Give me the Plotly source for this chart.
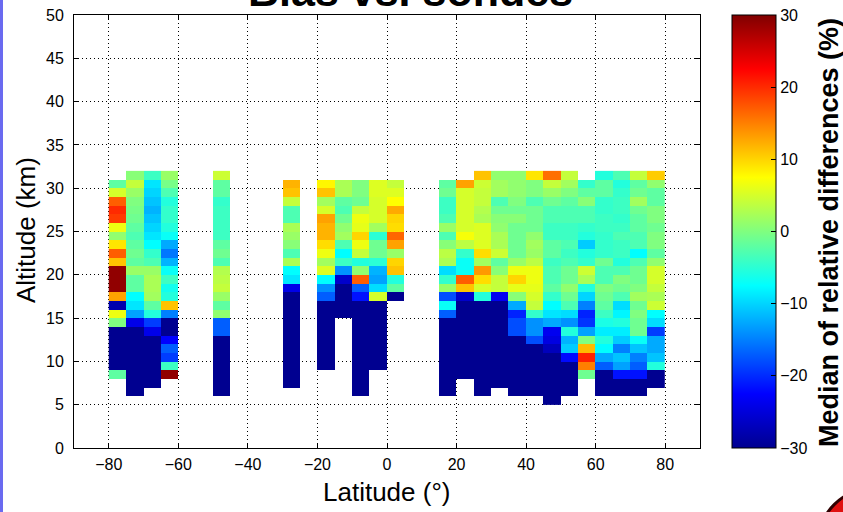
import plotly.graph_objects as go

# ---------------- data ----------------
lat_centers = [-77.5, -72.5, -67.5, -62.5, -47.5, -27.5, -17.5, -12.5, -7.5, -2.5, 2.5,
               17.5, 22.5, 27.5, 32.5, 37.5, 42.5, 47.5, 52.5, 57.5, 62.5, 67.5, 72.5, 77.5]
# lowest altitude bin (km) of each latitude column
bottom_km = [8, 6, 7, 8, 6, 7, 9, 15, 6, 9, 17, 6, 8, 6, 7, 6, 6, 5, 6, 8, 6, 6, 6, 7]

# median relative differences (%), 1-km bins listed from the bottom bin upward
p_m77 = [-2, -30, -30, -30, -30, -30, 0, 6.5, -28, 13, 29, 29, 29, 11, 17, 9, 1, 6.5, 19, 20, 17, 5, -2]
p_m72 = [-30, -30, -30, -30, -30, -30, -30, -30, -24, -13, -9, -7.5, -2, -2, 1.5, -2, -1, -2, -3, -2,
         -1, -0.5, 0, 1.5, 4, 0.5]
p_m67 = [-30, -30, -30, -30, -30, -30, -24, -19, -5.5, -2, 2, 2.5, 2.5, 1.5, -3, -4.5, -7.5, -9, -10,
         -11, -12, -11, -10, -9, -4]
p_m62 = [29, -4, -19, -17, -22.5, -30, -30, -15, 11, -5.5, -6.5, -4, -7, -12, -15.5, -12.5, -7, -5.5,
         -4.5, -4.5, -5.5, -3, -0.5, 1.5]
p_m47 = [-30, -30, -30, -30, -30, -30, -30, -17, -17, 1, -2, 1.5, 4, 3.5, 3, -3, -1, -2, -4, -4, -4,
         -4, -4.5, -2, -2, 4.5]
p_m27 = [-30, -30, -30, -30, -30, -30, -30, -30, -30, -30, -30, -24, -9, -7.5, 2.5, -3, 0.5, 1.5, 2.5,
         -3, -3, 4, 11, 12]
p_m17 = [-30, -30, -30, -30, -30, -30, -30, -30, -17, -14, -7.5, 5.5, 2, 6.5, 9.5, 12, 12, 13, 5, 2, 11, 8]
p_m12 = [-30, -30, -30, -30, -26, -14, -4, -7.5, -3, 2, 1, -1, -3, -2, 2.5, 2.5]
p_m07 = [-30, -30, -30, -30, -30, -30, -30, -30, -30, -30, -30, -21.5, -17, 17, 1, -5.5, 4, 6.5, 10, 6,
         6.5, 4, -1, 0, 0]
p_m02 = [-30, -30, -30, -30, -30, -30, -30, -30, 5, -9.5, -13, -12, -5, -1, -1, -5, 2, 5, 5, 5, 5.5, 5.5]
p_p02 = [-30, -2, -5.5, 11, 10, 1.5, 13, 16.5, 9.5, 10, 12.5, 7.5, 5.5, 4]
p_p17 = [-30, -30, -30, -30, -30, -30, -30, -30, -30, -17, -7, -18, 1.5, -4.5, -9.5, 2.5, 3.5, 0.5, -3,
         1.5, -3, -4, -4, -1, -2]
p_p22 = [-30, -30, -30, -30, -30, -30, -30, -30, -30, -26, 11, 17, -7, -7, -4.5, 3.5, 7, 5, 5, 5, 5, 5, 13]
p_p27 = [-30, -30, -30, -30, -30, -30, -30, -30, -30, -30, -30, -5.5, 5, 9.5, 13.5, 2, 9.5, 5.5, 5.5,
         5.5, 2.5, 3, 4, 4, 4.5, 11]
p_p32 = [-30, -30, -30, -30, -30, -30, -30, -30, -30, -30, -23.5, 4, 4, 0.5, -2, 4.5, 2.5, 2.5, 1, 0.5,
         -1, -3, 2, 2, 1]
p_p37 = [-30, -30, -30, -30, -30, -30, -30, -18, -18, -20.5, -12.5, 0.5, 6, 10, 6.5, 1.5, -1, -1, -1,
         -1, 0.5, -1, 0, 1, 1, 1]
p_p42 = [-30, -30, -30, -30, -30, -30, -18, -14, -14, -4.5, 4, 5, 6, 6.5, 6.5, 3.5, 1.5, 2, 1, -1, -1,
         -1, -3, 0, 0, 9]
p_p47 = [-30, -30, -30, -30, -30, -30, -27, -24.5, -23.5, -12.5, -9, -7.5, -4.5, -2, -3, -3, -4, -2,
         -2, -4, -4, -3, -3, -1, 1.5, 4, 16]
p_p52 = [-30, -30, -30, -30, -22, -10.5, -12, -5.5, -14, -9.5, -3, -1, 1, -1, -1, -3, -4, -3, -4, -4,
         -3, -3, -2, 0, 2, 4]
p_p57 = [-1, 15, 20.5, 11.5, 0, -13, -19.5, -20.5, -15, -10, -5.5, 2.5, 4.5, -4.5, -5.5, -10.5, -5.5,
         -4.5, -3, -3, 0.5, -2, -4.5]
p_p62 = [-30, -30, -30, -17, -12.5, -7.5, -5.5, -8.5, -6, -4, -2, -1, 0, -3, -3, -1, -4.5, -4.5, -4.5,
         -4, -4, -4.5, -4.5, -2, -2, -5.5]
p_p67 = [-30, -30, -21.5, -13, -11, -15, -10.5, -8.5, -5.5, -8, -9.5, -3, -1, 0, -3, -5.5, -4, -4, -3,
         -4, -4.5, -4, -4, -4.5, -5.5, -3]
p_p72 = [-30, -30, -21.5, -17, -15, -11, -7, -1, -1, 0, -1, 2, 0, -1, -1, -3, -7.5, -3, -3, -2, -2, -1,
         2, -1, -2, 4]
p_p77 = [-30, -30, -5.5, -11, -12.5, -12.5, -19, -9.5, -7.5, 4.5, 2.5, 4, 5, 5, 1, -2, 0, 0, -1, 0, 0,
         -2, -2, 1, 10.5]

profiles = [p_m77, p_m72, p_m67, p_m62, p_m47, p_m27, p_m17, p_m12, p_m07, p_m02, p_p02,
            p_p17, p_p22, p_p27, p_p32, p_p37, p_p42, p_p47, p_p52, p_p57, p_p62, p_p67, p_p72, p_p77]

x_ticks = [-80, -60, -40, -20, 0, 20, 40, 60, 80]
y_ticks = [0, 5, 10, 15, 20, 25, 30, 35, 40, 45, 50]
cb_ticks = [-30, -20, -10, 0, 10, 20, 30]

# ---------------- grid ----------------
lat_bin = 5.0
lat_grid = [-80 + lat_bin / 2 + lat_bin * i for i in range(32)]
alt_low = 5
alt_grid = [alt_low + 0.5 + k for k in range(27)]
z = [[None] * len(lat_grid) for _ in alt_grid]
for lat, b, prof in zip(lat_centers, bottom_km, profiles):
    j = lat_grid.index(lat)
    for k, v in enumerate(prof):
        z[b - alt_low + k][j] = v

jet = [[0.0, "#000090"], [0.125, "#0000FF"], [0.375, "#00FFFF"],
       [0.625, "#FFFF00"], [0.875, "#FF0000"], [1.0, "#800000"]]

L, R, T, B = 74, 143, 15, 64
W, H = 843, 512
pw, ph = W - L - R, H - T - B

def px(xp):
    return (xp - L) / pw

def py(yp):
    return 1 - (yp - T) / ph

font_main = "Liberation Sans, Arial, sans-serif"

fig = go.Figure()
fig.add_trace(go.Heatmap(
    x=lat_grid, y=alt_grid, z=z, zmin=-30, zmax=30, colorscale=jet,
    hoverongaps=False, xgap=0, ygap=0,
    colorbar=dict(
        x=px(732), xanchor="left", xpad=0, y=0.5, yanchor="middle", ypad=0,
        len=1.0, lenmode="fraction", thickness=44, thicknessmode="pixels",
        outlinecolor="black", outlinewidth=1,
        tickvals=cb_ticks, ticks="inside", ticklen=5, tickcolor="black",
        tickfont=dict(family=font_main, size=16, color="black"),
    ),
))

axis_common = dict(
    showline=True, linecolor="black", linewidth=1, mirror="ticks",
    ticks="inside", ticklen=5, tickcolor="black",
    showgrid=True, gridcolor="black", griddash="1px,3px", gridwidth=1,
    zeroline=False,
    tickfont=dict(family=font_main, size=16, color="black"),
)

fig.update_layout(
    width=W, height=H,
    margin=dict(l=L, r=R, t=T, b=B, autoexpand=False),
    paper_bgcolor="white", plot_bgcolor="white",
    xaxis=dict(range=[-90, 90], tickvals=x_ticks, ticklabelstandoff=2, **axis_common),
    yaxis=dict(range=[0, 50], tickvals=y_ticks, ticklabelstandoff=6, **axis_common),
    annotations=[
        dict(text="Bias vs. sondes", xref="paper", yref="paper", x=px(410), y=py(-9),
             xanchor="center", yanchor="middle", showarrow=False,
             font=dict(family=font_main, size=43, color="black", weight="bold")),
        dict(text="Latitude (°)", xref="paper", yref="paper", x=px(386), y=py(492),
             xanchor="center", yanchor="middle", showarrow=False,
             font=dict(family=font_main, size=26, color="black")),
        dict(text="Altitude (km)", xref="paper", yref="paper", x=px(26), y=py(230),
             xanchor="center", yanchor="middle", showarrow=False, textangle=-90,
             font=dict(family=font_main, size=26, color="black")),
        dict(text="Median of relative differences (%)", xref="paper", yref="paper",
             x=px(829), y=py(233), xanchor="center", yanchor="middle", showarrow=False,
             textangle=-90,
             font=dict(family=font_main, size=27, color="black", weight="bold")),
    ],
    shapes=[
        dict(type="line", xref="paper", yref="paper", x0=px(1.5), x1=px(1.5),
             y0=py(H), y1=py(0), line=dict(color="#6A6AF0", width=3)),
        dict(type="circle", xref="paper", yref="paper", x0=px(818), x1=px(930),
             y0=py(600), y1=py(488), fillcolor="#E01010", line=dict(color="#300000", width=3)),
    ],
)

fig.write_html("out.html")
